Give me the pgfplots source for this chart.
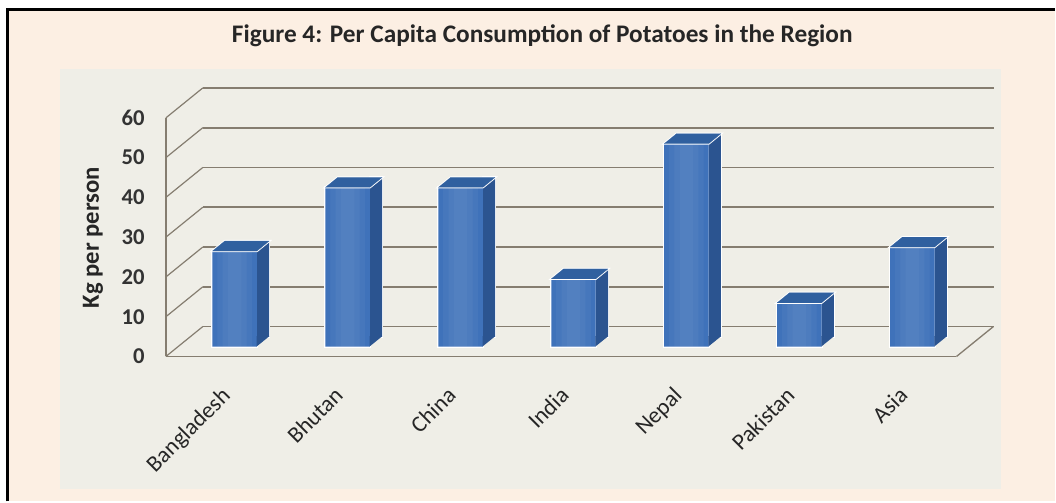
\documentclass[border=0pt]{standalone}
\usepackage{pgfplots}
\pgfplotsset{compat=1.18}
\usepackage{pgfplotstable}
\usepackage{fontspec}
\setmainfont{Carlito}

\definecolor{outerbg}{HTML}{FCEFE3}
\definecolor{plotbg}{HTML}{EFEEE7}
\definecolor{gridc}{HTML}{857D70}
\definecolor{frontc}{HTML}{3F72BA}
\definecolor{sidec}{HTML}{2B5490}
\definecolor{topc}{HTML}{30609F}

\pgfdeclareplotmark{topface}{%
 \pgfpathmoveto{\pgfqpoint{-16.69pt}{0pt}}%
 \pgfpathlineto{\pgfqpoint{16.69pt}{0pt}}%
 \pgfpathlineto{\pgfqpoint{25.91pt}{7.5pt}}%
 \pgfpathlineto{\pgfqpoint{-7.46pt}{7.5pt}}%
 \pgfpathclose\pgfusepathqfillstroke}
\pgfdeclareplotmark{basetri}{%
 \pgfpathmoveto{\pgfqpoint{16.5pt}{0pt}}%
 \pgfpathlineto{\pgfqpoint{16.5pt}{7.7pt}}%
 \pgfpathlineto{\pgfqpoint{26pt}{7.7pt}}%
 \pgfpathclose\pgfusepathqfill}

\pgfplotstableread{
x v
0 24
1 40
2 40
3 17
4 51
5 11
6 25
}\data

\begin{document}
\begin{tikzpicture}
\fill[white] (0,0) rectangle (792pt,376.5pt);
\fill[outerbg] (6pt,0) rectangle (792pt,369pt);
\fill[plotbg] (45pt,9pt) rectangle (752pt,325pt);
\draw[black, line width=2.25pt] (6pt,0) -- (6pt,369pt) -- (792pt,369pt);

\node[font=\bfseries\fontsize{19}{22}\selectfont, text=black!85] at (407.25pt,349.5pt) {Figure 4: Per Capita Consumption of Potatoes in the Region};
\node[font=\bfseries\fontsize{18.5}{22}\selectfont, text=black!85, rotate=90] at (69.75pt,198pt) {Kg per person};

% back wall
\begin{axis}[at={(152.4pt,131.25pt)}, anchor=south west, x=84.825pt, y=2.987pt,
  xmin=-0.5, xmax=6.5, ymin=0, ymax=60, ytick={0,10,...,60}, xtick=\empty,
  yticklabels={}, ymajorgrids, major grid style={gridc, line width=1.4pt},
  axis line style={draw=none}, major tick length=0pt]
\end{axis}

% front frame
\begin{axis}[at={(124.6pt,108.75pt)}, anchor=south west, x=84.825pt, y=2.987pt,
  xmin=-0.5, xmax=6.5, ymin=0, ymax=60, axis lines*=left,
  axis line style={gridc, line width=1.4pt, -},
  ytick={0,10,...,60}, xtick={0,...,6},
  xticklabels={Bangladesh,Bhutan,China,India,Nepal,Pakistan,Asia},
  major tick length=0pt, tick style={draw=none},
  /pgf/number format/assume math mode=true,
  yticklabel style={font=\bfseries\fontsize{17}{19}\selectfont, text=black!80, anchor=east, inner sep=0pt},
  yticklabel shift=15.75pt,
  xticklabel style={rotate=45, anchor=north east, font=\fontsize{17.3}{19}\selectfont, text=black!85, inner sep=0pt, xshift=-2.5pt},
  xticklabel shift=20pt, clip=false]
\pgfplotsinvokeforeach{0,10,...,60}{\draw[gridc, line width=0.9pt] (axis cs:-0.5,#1) -- ++(27.75pt,22.5pt);}
\draw[gridc, line width=1pt] (axis cs:6.5,0) -- ++(27.75pt,22.5pt);
\end{axis}

% bars
\begin{axis}[at={(133.84pt,116.25pt)}, anchor=south west, x=84.825pt, y=2.987pt,
  xmin=-0.5, xmax=6.5, ymin=0, ymax=60, hide axis, clip=false]
% white halo
\addplot[ybar, bar width=9.225pt, bar shift=21.3pt, fill=white, draw=white, line width=1.6pt, yshift=7.5pt] table[x=x,y=v]{\data};
\addplot[ybar, bar width=33.375pt, fill=white, draw=white, line width=1.6pt] table[x=x,y=v]{\data};
\addplot[only marks, mark=topface, color=white, mark options={line width=1.6pt}] table[x=x,y=v]{\data};
% faces
\addplot[ybar, bar width=9.225pt, bar shift=21.3pt, fill=sidec, draw=none, yshift=7.5pt] table[x=x,y=v]{\data};
\addplot[only marks, mark=basetri, color=sidec] coordinates {(0,0)(1,0)(2,0)(3,0)(4,0)(5,0)(6,0)};
\addplot[ybar, bar width=33.375pt, fill=frontc, draw=none] table[x=x,y=v]{\data};
\addplot[ybar, bar width=26pt, fill=white, fill opacity=0.04, draw=none] table[x=x,y=v]{\data};
\addplot[ybar, bar width=18pt, fill=white, fill opacity=0.04, draw=none] table[x=x,y=v]{\data};
\addplot[ybar, bar width=10pt, fill=white, fill opacity=0.03, draw=none] table[x=x,y=v]{\data};
\addplot[only marks, mark=topface, color=topc, mark options={line width=0.1pt}] table[x=x,y=v]{\data};
\end{axis}
\end{tikzpicture}
\end{document}
